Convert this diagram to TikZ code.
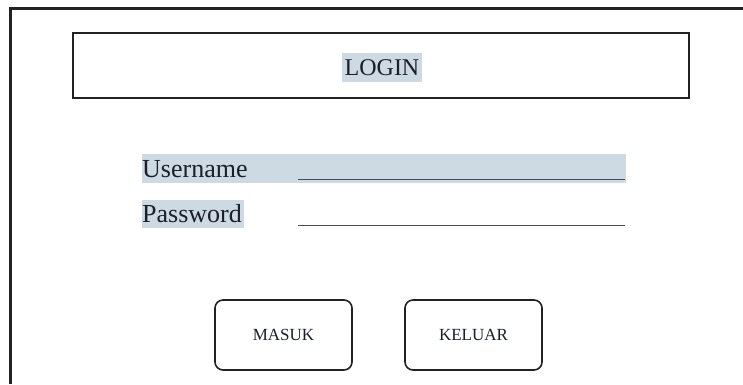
\documentclass[tikz,border=0pt]{standalone}
\usepackage{fontspec}
\setmainfont{Liberation Serif}
\definecolor{hl}{HTML}{CDD9E3}
\definecolor{ink}{HTML}{1A1F2A}
\definecolor{frame}{HTML}{222222}
\begin{document}
\begin{tikzpicture}[x=1pt,y=-1pt,
  box/.style={draw=frame,line width=1.8pt},
  btn/.style={draw=frame,line width=1.6pt,rounded corners=8pt},
  fieldtext/.style={text=ink,font=\fontsize{26}{30}\selectfont,anchor=base west,inner sep=0pt},
  btntext/.style={text=ink,font=\fontsize{17}{20}\selectfont},
  uline/.style={draw=ink!80,line width=1pt}]
\useasboundingbox (0,0) rectangle (743,384);
\fill[white] (0,0) rectangle (743,384);
% outer frame (cropped)
\coordinate (ftl) at (10.5,8.5);
\coordinate (fbl) at (10.5,384);
\coordinate (ftr) at (743,8.5);
\draw[draw=frame,line width=2.2pt] (fbl) -- (ftl) -- (ftr);
% title box
\node[box,minimum width=616pt,minimum height=65pt,inner sep=0pt] (title) at (381,65.5) {};
\node[fill=hl,text=ink,inner sep=0pt,minimum width=80pt,minimum height=29pt,font=\fontsize{24}{28}\selectfont] (login) at (382,67.5) {LOGIN};
% fields
\node[fill=hl,minimum width=484pt,minimum height=29pt,inner sep=0pt] (ubg) at (384,168.5) {};
\node[fieldtext] (user) at (142,177) {Username};
\coordinate (u1) at (298,179);
\coordinate (u2) at (625,179);
\draw[uline] (u1) -- (u2);
\node[fill=hl,minimum width=102pt,minimum height=28pt,inner sep=0pt] (pbg) at (193,214) {};
\node[fieldtext] (pass) at (142,222) {Password};
\coordinate (p1) at (298,225);
\coordinate (p2) at (625,225);
\draw[uline] (p1) -- (p2);
% buttons
\node[btn,minimum width=137pt,minimum height=70pt,inner sep=0pt] (masuk) at (283.5,335) {};
\node[btntext] at (masuk) {MASUK};
\node[btn,minimum width=137pt,minimum height=70pt,inner sep=0pt] (keluar) at (473.5,335) {};
\node[btntext] at (keluar) {KELUAR};
\end{tikzpicture}
\end{document}
